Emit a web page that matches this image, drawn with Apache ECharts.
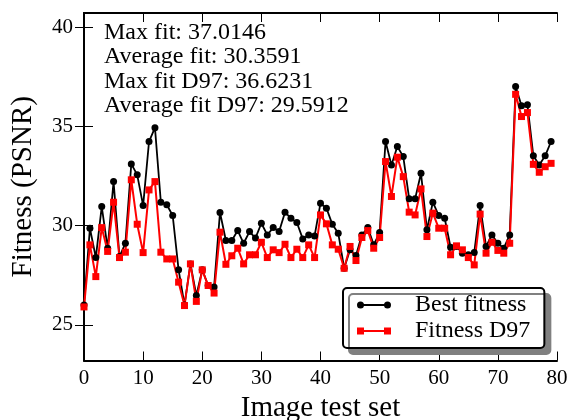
<!DOCTYPE html>
<html>
<head>
<meta charset="utf-8">
<script src="https://cdn.jsdelivr.net/npm/echarts@6/dist/echarts.min.js"></script>
<style>
  html, body { margin: 0; padding: 0; background: #fff; }
  #chart { width: 570px; height: 420px; }
</style>
</head>
<body>
<div id="chart"></div>
<script>
// image index on the x axis
const imageIndex = [0, 1, 2, 3, 4, 5, 6, 7, 8, 9, 10, 11, 12, 13, 14, 15, 16, 17, 18, 19,
  20, 21, 22, 23, 24, 25, 26, 27, 28, 29, 30, 31, 32, 33, 34, 35, 36, 37, 38, 39,
  40, 41, 42, 43, 44, 45, 46, 47, 48, 49, 50, 51, 52, 53, 54, 55, 56, 57, 58, 59,
  60, 61, 62, 63, 64, 65, 66, 67, 68, 69, 70, 71, 72, 73, 74, 75, 76, 77, 78, 79]

const bestFitness = [26.0, 29.87, 28.39, 30.96, 28.86, 32.22, 28.44, 29.11, 33.11, 32.56,
  31.01, 34.24, 34.94, 31.18, 31.05, 30.51, 27.77, 26.0, 28.07, 26.48,
  27.77, 26.98, 26.9, 30.66, 29.25, 29.25, 29.75, 29.11, 29.7, 29.37,
  30.12, 29.53, 29.9, 29.7, 30.68, 30.37, 30.16, 29.33, 29.53, 29.48,
  31.13, 30.88, 30.07, 29.62, 27.85, 28.78, 28.49, 29.53, 29.9, 29.03,
  29.65, 34.24, 33.06, 33.99, 33.48, 31.35, 31.35, 32.64, 29.79, 31.18,
  30.51, 30.37, 28.91, 28.95, 28.61, 28.53, 28.64, 31.01, 28.95, 29.53,
  29.11, 28.86, 29.53, 37.01, 36.04, 36.09, 33.52, 33.06, 33.52, 34.24]

const fitnessD97 = [25.9, 29.03, 27.43, 29.9, 28.7, 31.18, 28.39, 28.66, 32.31, 30.07,
  28.64, 31.8, 32.22, 28.66, 28.32, 28.32, 27.15, 25.97, 28.07, 26.18,
  27.77, 26.98, 26.6, 29.67, 28.05, 28.48, 28.86, 28.07, 28.53, 28.53,
  29.16, 28.39, 28.78, 28.64, 29.06, 28.39, 28.81, 28.39, 29.03, 28.39,
  30.54, 30.09, 29.03, 28.81, 27.85, 28.95, 28.24, 29.4, 29.75, 28.86,
  29.4, 33.23, 31.47, 33.45, 32.47, 30.68, 30.54, 31.85, 29.45, 30.63,
  29.87, 29.87, 28.53, 28.98, 28.78, 28.39, 28.02, 30.58, 28.61, 29.16,
  28.75, 28.61, 29.11, 36.62, 35.5, 35.7, 33.09, 32.69, 32.97, 33.14]

const yTicks = [25, 30, 35, 40]

const statLines = [
  'Max fit: 37.0146',
  'Average fit: 30.3591',
  'Max fit D97: 36.6231',
  'Average fit D97: 29.5912'
]

const FONT = 'Liberation Serif'

const chart = echarts.init(document.getElementById('chart'))

const tickStyle = { show: true, inside: true, length: 9, lineStyle: { color: '#000', width: 1 } }
const lineAxis = { show: true, lineStyle: { color: '#000', width: 2 } }

// legend icons: line with a marker on each end
const circleIcon = 'path://M3.5,2.5 L30.5,2.5 L30.5,4.5 L3.5,4.5 Z M0,3.5 A3.5,3.5 0 1 1 7,3.5 A3.5,3.5 0 1 1 0,3.5 Z M27,3.5 A3.5,3.5 0 1 1 34,3.5 A3.5,3.5 0 1 1 27,3.5 Z'
const squareIcon = 'path://M0,0 L7,0 L7,7 L0,7 Z M27,0 L34,0 L34,7 L27,7 Z M7,2.5 L27,2.5 L27,4.5 L7,4.5 Z'

const option = {
  animation: false,
  grid: { left: 84, right: 13, top: 13, bottom: 59.5, outerBoundsMode: 'none' },
  xAxis: [
    {
      type: 'value', min: 0, max: 80, interval: 10, position: 'bottom',
      name: 'Image test set', nameLocation: 'middle', nameGap: 33,
      nameTextStyle: { fontFamily: FONT, fontSize: 29, color: '#000' },
      axisLine: lineAxis, axisTick: tickStyle, splitLine: { show: false },
      axisLabel: { fontFamily: FONT, fontSize: 21, color: '#000', margin: 7 }
    },
    {
      type: 'value', min: 0, max: 80, interval: 10, position: 'top',
      axisLine: lineAxis, axisTick: tickStyle, splitLine: { show: false },
      axisLabel: { show: false }
    }
  ],
  yAxis: [
    {
      type: 'value', min: 23.2, max: 40.72, position: 'left',
      name: 'Fitness (PSNR)', nameLocation: 'middle', nameGap: 46,
      nameTextStyle: { fontFamily: FONT, fontSize: 29, color: '#000' },
      axisLine: lineAxis,
      axisTick: Object.assign({ customValues: yTicks }, tickStyle),
      splitLine: { show: false },
      axisLabel: { customValues: yTicks, fontFamily: FONT, fontSize: 21, color: '#000', margin: 11 }
    },
    {
      type: 'value', min: 23.2, max: 40.72, position: 'right',
      axisLine: lineAxis,
      axisTick: Object.assign({ customValues: yTicks }, tickStyle),
      splitLine: { show: false },
      axisLabel: { show: false }
    }
  ],
  legend: {
    orient: 'vertical',
    left: 343,
    top: 288,
    padding: [5, 14, 5, 14],
    itemGap: 2,
    itemWidth: 34,
    itemHeight: 7,
    backgroundColor: '#fff',
    borderColor: '#000',
    borderWidth: 2,
    borderRadius: 4,
    shadowColor: '#808080',
    shadowBlur: 0,
    shadowOffsetX: 6,
    shadowOffsetY: 6,
    textStyle: { fontFamily: FONT, fontSize: 24, color: '#000', padding: [0, 0, 0, 19] },
    data: [
      { name: 'Best fitness', icon: circleIcon },
      { name: 'Fitness D97', icon: squareIcon }
    ]
  },
  graphic: [
    {
      type: 'text',
      left: 104,
      top: 20,
      style: {
        text: statLines.join('\n'),
        font: '24px "' + FONT + '"',
        lineHeight: 24.5,
        fill: '#000'
      }
    }
  ],
  series: [
    {
      name: 'Best fitness',
      type: 'line',
      data: imageIndex.map((x, i) => [x, bestFitness[i]]),
      symbol: 'circle',
      symbolSize: 7,
      color: '#000',
      lineStyle: { width: 1.8, color: '#000' },
      itemStyle: { color: '#000' }
    },
    {
      name: 'Fitness D97',
      type: 'line',
      data: imageIndex.map((x, i) => [x, fitnessD97[i]]),
      symbol: 'rect',
      symbolSize: 7,
      color: '#ff0000',
      lineStyle: { width: 2, color: '#ff0000' },
      itemStyle: { color: '#ff0000' }
    }
  ]
}

chart.setOption(option)
</script>
</body>
</html>
